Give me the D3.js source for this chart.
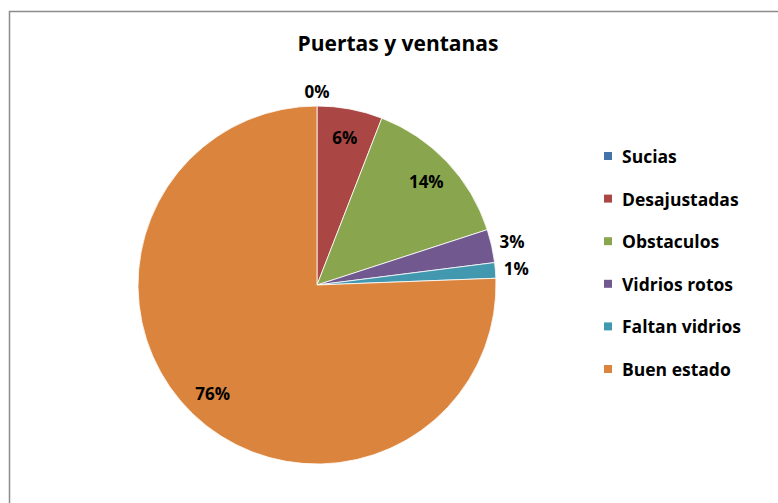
<!DOCTYPE html>
<html>
<head>
<meta charset="utf-8">
<script src="https://cdn.jsdelivr.net/npm/d3@7"></script>
<style>
  body { margin: 0; background: #fff; }
  svg { display: block; font-family: "Open Sans", "DejaVu Sans", sans-serif; }
</style>
</head>
<body>
<div id="chart"></div>
<script>
// categorias y porcentajes
var categories = ['Sucias', 'Desajustadas', 'Obstaculos', 'Vidrios rotos', 'Faltan vidrios', 'Buen estado'];
var values = [0, 5.9, 14.1, 3.0, 1.4, 75.6];
var colors = ['#4572A7', '#AA4643', '#89A54E', '#71588F', '#4198AF', '#DB843D'];
var chartTitle = 'Puertas y ventanas';

var width = 778, height = 503;
var cx = 317, cy = 285, R = 179;

var svg = d3.select('#chart').append('svg')
  .attr('width', width)
  .attr('height', height);

// marco del area del grafico
svg.append('rect')
  .attr('x', 9.5).attr('y', 11.5)
  .attr('width', width).attr('height', height)
  .attr('fill', '#fff')
  .attr('stroke', '#8c8c8c')
  .attr('stroke-width', 1.5);

svg.append('text')
  .attr('x', 398).attr('y', 51)
  .attr('text-anchor', 'middle')
  .attr('font-size', 21)
  .attr('font-weight', 'bold')
  .text(chartTitle);

var data = categories.map(function(c, i){ return {name: c, value: values[i], color: colors[i]}; });
var total = d3.sum(values);

var pie = d3.pie().sort(null).value(function(d){ return d.value; });
var arcs = pie(data);

var arc = d3.arc().innerRadius(0).outerRadius(R);

var g = svg.append('g').attr('transform', 'translate(' + cx + ',' + cy + ')');

g.selectAll('path')
  .data(arcs)
  .enter()
  .append('path')
  .attr('d', arc)
  .attr('fill', function(d){ return d.data.color; })
  .attr('stroke', '#fff')
  .attr('stroke-width', 0.8);

var fmt = d3.format('.0%');

// etiquetas: dentro para las porciones grandes, fuera para las chicas
g.selectAll('text.lbl')
  .data(arcs)
  .enter()
  .append('text')
  .attr('class', 'lbl')
  .attr('text-anchor', 'middle')
  .attr('dominant-baseline', 'central')
  .attr('font-size', 17)
  .attr('font-weight', 'bold')
  .attr('fill', '#000')
  .attr('transform', function(d){
    var a = (d.startAngle + d.endAngle) / 2;
    var pct = d.data.value / total;
    var r = R * 0.84;
    if (pct < 0.05) r = R + 15 + 6 * Math.abs(Math.sin(a));
    return 'translate(' + (r * Math.sin(a)) + ',' + (-r * Math.cos(a)) + ')';
  })
  .text(function(d){ return fmt(d.data.value / total); });

// leyenda
var legend = svg.append('g').attr('transform', 'translate(604,156)');
var item = legend.selectAll('g')
  .data(data)
  .enter()
  .append('g')
  .attr('transform', function(d, i){ return 'translate(0,' + (i * 42.6) + ')'; });

item.append('rect')
  .attr('x', 0).attr('y', -4)
  .attr('width', 8).attr('height', 8)
  .attr('fill', function(d){ return d.color; });

item.append('text')
  .attr('x', 18).attr('y', 0)
  .attr('dominant-baseline', 'central')
  .attr('font-size', 17.5)
  .attr('font-weight', 'bold')
  .text(function(d){ return d.name; });
</script>
</body>
</html>
